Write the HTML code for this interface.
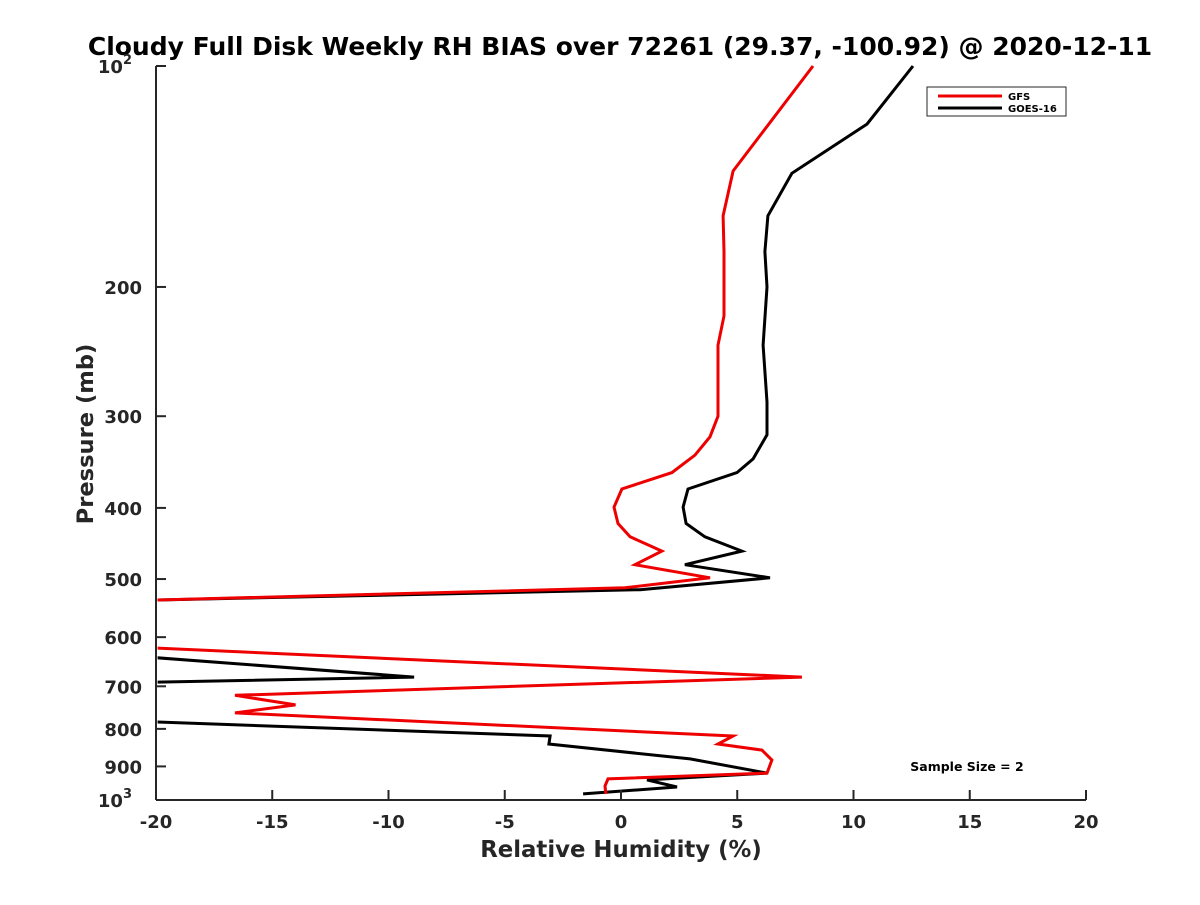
<!DOCTYPE html>
<html><head><meta charset="utf-8"><style>
html,body{margin:0;padding:0;background:#fff;}
svg text{font-family:"DejaVu Sans","Liberation Sans",sans-serif;font-weight:bold;}
</style></head><body>
<svg id="chart" width="1200" height="900" xmlns="http://www.w3.org/2000/svg">
<rect width="1200" height="900" fill="#fff"/>
<text x="620" y="55" font-size="25" text-anchor="middle" fill="#000">Cloudy Full Disk Weekly RH BIAS over 72261 (29.37, -100.92) @ 2020-12-11</text>
<defs><clipPath id="plotclip"><rect x="157.6" y="55" width="940" height="745"/></clipPath></defs>
<g id="series" clip-path="url(#plotclip)"></g>
<g id="axes"></g>
<text x="621" y="857" font-size="22.8" text-anchor="middle" fill="#262626">Relative Humidity (%)</text>
<text transform="translate(93,434) rotate(-90)" font-size="22.6" text-anchor="middle" fill="#262626">Pressure (mb)</text>
<text x="967" y="771" font-size="12.5" text-anchor="middle" fill="#000">Sample Size = 2</text>
<g>
<rect x="927" y="87" width="139" height="29" fill="#fff" stroke="#262626" stroke-width="1"/>
<line x1="938" y1="96" x2="1002" y2="96" stroke="#e00" stroke-width="3"/>
<text x="1008" y="100" font-size="10" fill="#000">GFS</text>
<line x1="938" y1="108" x2="1002" y2="108" stroke="#000" stroke-width="3"/>
<text x="1008" y="112" font-size="10" fill="#000">GOES-16</text>
</g>
</svg>
<script>
const xTicks = [-20,-15,-10,-5,0,5,10,15,20];
const yTicks = [100,200,300,400,500,600,700,800,900,1000];
const yTickLabels = ["10²","200","300","400","500","600","700","800","900","10³"];
const gfsPressure = [100,139,160,179,219,240,300,320,339,358,377,399,420,438,458,478,498,514,534,621,680,720,742,761,818,839,855,882,919,936,957,981];
const gfsRH = [8.26,4.82,4.39,4.43,4.43,4.17,4.17,3.83,3.18,2.19,0.04,-0.30,-0.13,0.39,1.76,0.60,3.83,0.17,-20,-20,7.78,-16.6,-14.0,-16.6,4.82,4.17,6.06,6.49,6.28,-0.56,-0.69,-0.65];
const goesPressure = [100,120,140,160,179,200,240,287,318,343,358,377,399,420,438,458,478,498,517,534,640,680,691,783,818,839,879,919,939,960,981];
const goesRH = [12.56,10.58,7.35,6.32,6.19,6.28,6.11,6.28,6.28,5.68,4.99,2.88,2.67,2.80,3.61,5.20,2.75,6.41,0.82,-20,-20,-8.9,-20,-20,-3.05,-3.10,2.97,6.28,1.12,2.41,-1.63];

const NS="http://www.w3.org/2000/svg";
const L=156,R=1086,T=66,B=800;
function xs(v){return L+(v+20)/40*(R-L);}
function ypos(p){return T+(Math.log10(p)-2)*(B-T);}
function mk(tag,attrs,parent){const e=document.createElementNS(NS,tag);for(const k in attrs)e.setAttribute(k,attrs[k]);parent.appendChild(e);return e;}
const axes=document.getElementById('axes');
let e=mk('line',{x1:L,y1:T,x2:L,y2:B,stroke:'#262626','stroke-width':2},axes);


e=mk('line',{x1:L,y1:B,x2:R,y2:B,stroke:'#262626','stroke-width':2},axes);


xTicks.forEach(v=>{
  const x=xs(v);
  let t=mk('line',{x1:x,y1:B,x2:x,y2:B-10,stroke:'#262626','stroke-width':2},axes);
  
  
  let lb=mk('text',{x:x,y:B+28,'font-size':18,'text-anchor':'middle',fill:'#262626'},axes);
  lb.textContent=String(v);
  
  
});
yTicks.forEach((p,i)=>{
  const y=ypos(p);
  let t=mk('line',{x1:L,y1:y,x2:L+10,y2:y,stroke:'#262626','stroke-width':2},axes);
  
  
  const s=yTickLabels[i];
  let lb=mk('text',{x:L-14,y:y+7,'font-size':18,'text-anchor':'end',fill:'#262626'},axes);
  if(s.endsWith('²')||s.endsWith('³')){
    lb.setAttribute('x',L-24);
    lb.textContent='10';
    const sup=mk('tspan',{dy:-9,'font-size':13},lb);
    sup.textContent=s.endsWith('²')?'2':'3';
  } else lb.textContent=s;
  
  
});
const series=document.getElementById('series');
function drawLine(ps,vs,color,name){
  const pts=ps.map((p,i)=>xs(vs[i]).toFixed(1)+','+ypos(p).toFixed(1)).join(' ');
  const pl=mk('polyline',{points:pts,fill:'none',stroke:color,'stroke-width':3,'stroke-linejoin':'miter'},series);
  
  
}
drawLine(goesPressure,goesRH,'#000','goes16-line');
drawLine(gfsPressure,gfsRH,'#e00','gfs-line');
</script>
</body></html>
